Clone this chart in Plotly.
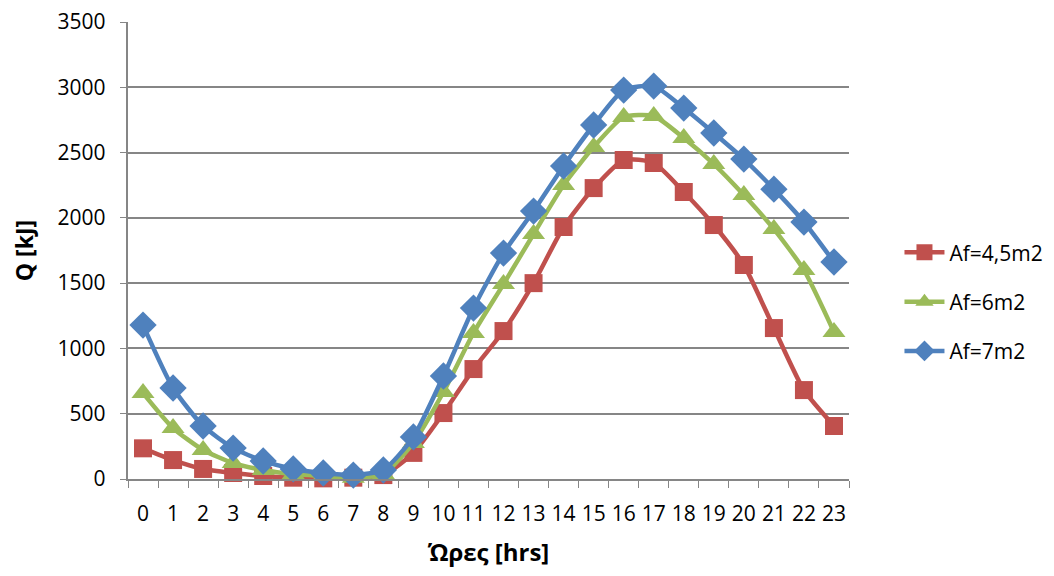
import plotly.graph_objects as go

hours = [str(h) for h in range(24)]
af45 = [235, 145, 77, 46, 23, 10, 5, 10, 30, 200, 505, 842, 1133, 1500, 1930, 2228, 2443, 2420, 2198, 1945, 1639, 1156, 681, 406]
af6 = [658, 390, 222, 122, 69, 38, 23, 10, 38, 276, 666, 1118, 1493, 1876, 2251, 2542, 2772, 2780, 2611, 2412, 2175, 1914, 1600, 1126]
af7 = [1179, 697, 406, 237, 138, 77, 46, 30, 69, 322, 789, 1309, 1730, 2052, 2397, 2711, 2979, 3009, 2841, 2650, 2450, 2220, 1968, 1662]
names = ["Af=4,5m2", "Af=6m2", "Af=7m2"]
y_ticks = [0, 500, 1000, 1500, 2000, 2500, 3000, 3500]

FONT = "Open Sans"
fig = go.Figure()
specs = [(af45, "#C0504D", "square", 18), (af6, "#9BBB59", "triangle-up", 20), (af7, "#4F81BD", "diamond", 21)]
for i, (vals, col, sym, sz) in enumerate(specs):
    fig.add_trace(go.Scatter(
        x=hours, y=vals, name=names[i], mode="lines+markers",
        line=dict(color=col, width=4.5, shape="spline", smoothing=0.6),
        marker=dict(symbol=sym, size=sz, color=col),
        legendgroup=str(i), cliponaxis=False,
    ))

fig.update_layout(
    width=1054, height=576,
    margin=dict(l=120, r=213, t=14, b=105),
    paper_bgcolor="white", plot_bgcolor="white",
    font=dict(family=FONT, size=20, color="black"),
    showlegend=True,
    legend=dict(x=1.07, y=0.54, xanchor="left", yanchor="top",
                font=dict(size=21), tracegroupgap=19, itemwidth=40),
    xaxis=dict(
        type="category", showgrid=False, showline=True, linecolor="#868686", linewidth=1.5,
        ticks="outside", ticklen=7, tickcolor="#868686", tickson="boundaries",
        tickangle=0, automargin=False, tickfont=dict(size=21), ticklabelstandoff=15,
        ticklabeloverflow="allow",
        title=dict(text="<b>Ώρες [hrs]</b>", font=dict(size=24), standoff=18),
        range=[-0.5, 23.5],
    ),
    yaxis=dict(
        range=[0, 3500], tickvals=y_ticks, ticktext=[f"{v}\u2002" for v in y_ticks],
        showgrid=True, gridcolor="#868686", gridwidth=1.5,
        showline=True, linecolor="#868686", linewidth=1.5, ticks="outside", ticklen=6,
        tickcolor="#868686", zeroline=False, automargin=False,
        tickfont=dict(size=21), ticklabeloverflow="allow",
        title=dict(text="<b>Q [kJ]</b>", font=dict(size=23), standoff=18),
    ),
)
fig.write_html("out.html")
